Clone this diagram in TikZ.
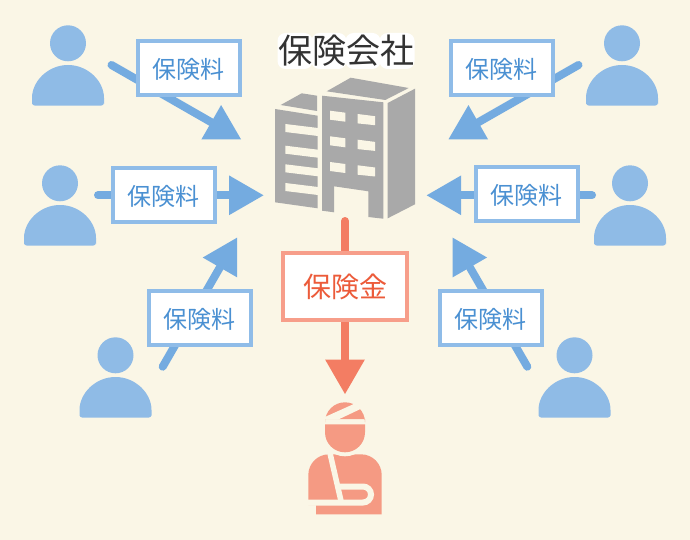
\documentclass[tikz,border=0pt]{standalone}
\usepackage{fontspec}
\setmainfont{Noto Sans CJK JP}
\usetikzlibrary{arrows.meta}
\definecolor{bgc}{HTML}{FAF6E6}
\definecolor{personc}{HTML}{8FBBE6}
\definecolor{arrowc}{HTML}{74ABE0}
\definecolor{boxc}{HTML}{8FBCE8}
\definecolor{textc}{HTML}{4A90D2}
\definecolor{redarrow}{HTML}{F37D63}
\definecolor{redbox}{HTML}{F79E8A}
\definecolor{redtext}{HTML}{EC5B3A}
\definecolor{patientc}{HTML}{F59A83}
\definecolor{buildc}{HTML}{A9A9A9}
\definecolor{titlec}{HTML}{333333}
\tikzset{
  flow/.style={line width=8pt,line cap=round,-{Triangle[length=34.3pt,width=39.6pt,line width=0pt,sep=0pt]}},
  bluearrow/.style={flow,draw=arrowc,fill=arrowc},
  redflow/.style={flow,draw=redarrow,fill=redarrow},
  feebox/.style={draw=boxc,fill=white,line width=4pt,minimum width=102pt,minimum height=54pt,inner sep=0pt,text=textc,text height=23pt,text depth=2.8pt,font=\fontsize{24}{24}\selectfont},
  paybox/.style={draw=redbox,fill=white,line width=4pt,minimum width=124pt,minimum height=66.4pt,inner sep=0pt,text=redtext,font=\fontsize{28}{28}\selectfont},
  titletext/.style={inner sep=0pt,font=\fontsize{34}{34}\selectfont},
  personfig/.pic={
    \fill[personc] (0,0) circle[radius=18];
    \fill[personc,rounded corners=3pt] (-36,57.7) arc[start angle=180,end angle=360,radius=36] -- (36,62.4) -- (-36,62.4) -- cycle;
  }
}
\begin{document}
\begin{tikzpicture}[x=1pt,y=-1pt]
\useasboundingbox (0,0) rectangle (690,540);
\fill[bgc] (0,0) rectangle (690,540);

% people
\pic at (68,43.3) {personfig};
\pic at (60,183.3) {personfig};
\pic at (115.5,355.3) {personfig};
\pic at (622,43.3) {personfig};
\pic at (630,183.3) {personfig};
\pic at (574.5,355.3) {personfig};

% connector ends
\coordinate (s1) at (111.5,65);
\coordinate (t1) at (241,139.3);
\coordinate (s2) at (98,195.3);
\coordinate (t2) at (263.5,195.3);
\coordinate (s3) at (162.7,366.7);
\coordinate (t3) at (237,237.7);
\coordinate (s4) at (578.5,65);
\coordinate (t4) at (448.5,139.3);
\coordinate (s5) at (592,195.3);
\coordinate (t5) at (426.7,195.3);
\coordinate (s6) at (527.3,366.7);
\coordinate (t6) at (452.7,237.7);
\coordinate (s7) at (345,221);
\coordinate (t7) at (345,394);

\draw[bluearrow] (s1) -- (t1);
\draw[bluearrow] (s2) -- (t2);
\draw[bluearrow] (s3) -- (t3);
\draw[bluearrow] (s4) -- (t4);
\draw[bluearrow] (s5) -- (t5);
\draw[bluearrow] (s6) -- (t6);
\draw[redflow] (s7) -- (t7);

% label boxes
\node[feebox] (f1) at (188.7,68.3) {保険料};
\node[feebox] (f2) at (163.7,195.3) {保険料};
\node[feebox] (f3) at (199.85,318.3) {保険料};
\node[feebox] (f4) at (501.5,68.3) {保険料};
\node[feebox] (f5) at (526.5,194.3) {保険料};
\node[feebox] (f6) at (490.5,318.3) {保険料};
\node[paybox] (p1) at (345,286.5) {保険金};

% title on its white halo
\foreach \cx in {295,329,363,397}{
  \fill[white,rounded corners=8pt] (\cx-17.5,33) rectangle (\cx+17.5,69);
}
\node[titletext,text=titlec] (title) at (346,51) {保険会社};

% building
\fill[buildc] (280.7,105) -- (301.7,93.3) -- (317,95.7) -- (317,111) -- cycle;
\fill[buildc] (275,109) -- (317.7,115.7) -- (317.7,208.3) -- (275,202.3) -- cycle;
\foreach \y in {124,145.7,164.3,183}{
  \fill[bgc] (285.3,\y) -- (318,\y+4) -- (318,\y+12) -- (285.3,\y+8) -- cycle;
}
\fill[buildc] (322,95.7) -- (383.3,102.3) -- (383.3,218.7) -- (368.3,217) -- (368.3,191.3) -- (334,186.3) -- (334,212.3) -- (322,210.7) -- cycle;
\foreach \y in {110.7,136.3,162}{
  \fill[bgc] (330,\y) -- (345.3,\y+2) -- (345.3,\y+11) -- (330,\y+9) -- cycle;
}
\foreach \y in {114,139.7,165.3}{
  \fill[bgc] (357.7,\y) -- (375,\y+2.2) -- (375,\y+11.2) -- (357.7,\y+9.4) -- cycle;
}
\fill[buildc] (326.7,91.3) -- (350.7,77.7) -- (408.7,88) -- (385.3,100) -- cycle;
\fill[buildc] (387.7,103) -- (415,88.7) -- (415,204.3) -- (387.7,218.3) -- cycle;

% patient
\fill[patientc] (308.3,505) -- (308.3,475) arc[start angle=180,end angle=270,radius=20.7] -- (361,454.3) arc[start angle=270,end angle=360,radius=20.7] -- (381.7,514.3) -- (316,514.3) -- (316,505) -- cycle;
\fill[bgc] (345,432.3) circle[radius=24];
\draw[bgc,line width=5.5pt] (329.5,451) -- (341,501);
\draw[bgc,line width=6pt] (300,502.5) -- (363,502.5) arc[start angle=90,end angle=-90,radius=8] -- (340,486.5);
\fill[patientc] (325,424.3) -- (365,424.3) -- (365,432.3) arc[start angle=0,end angle=180,radius=20] -- cycle;
\fill[patientc] (325,419) -- (325,422.3) arc[start angle=180,end angle=360,radius=20] -- (365,419) -- cycle;
\fill[bgc] (322,418.3) -- (356,403) -- (362,408.3) -- (338.3,419.5) -- (322,419.5) -- cycle;
\end{tikzpicture}
\end{document}
